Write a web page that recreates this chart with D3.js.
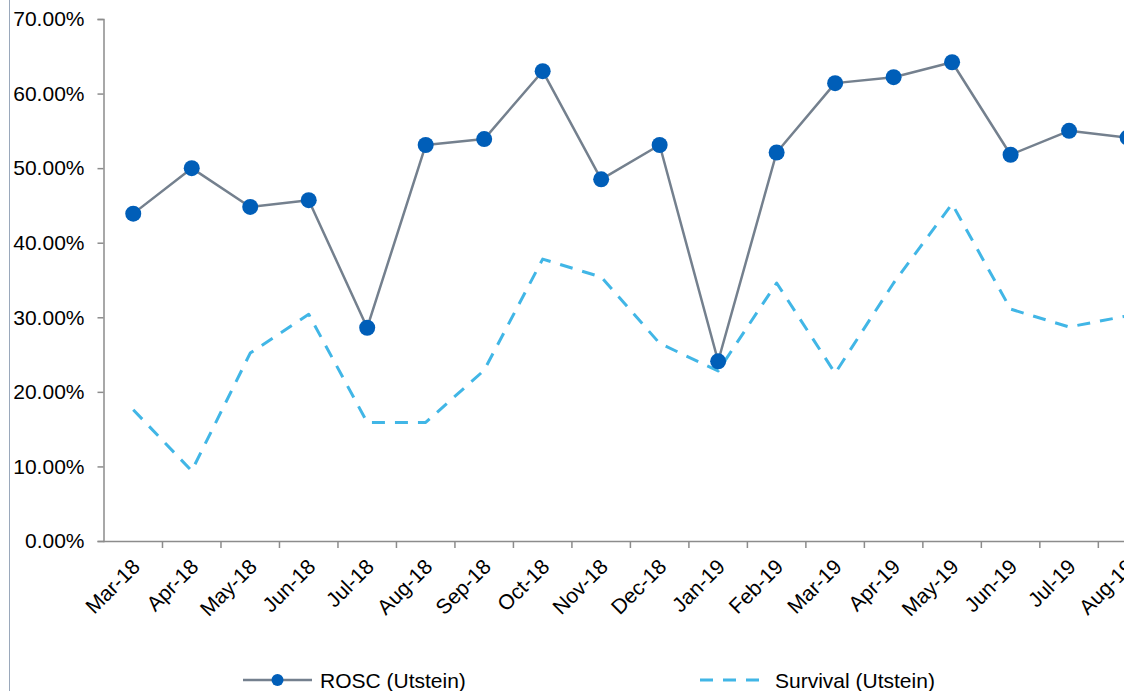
<!DOCTYPE html>
<html>
<head>
<meta charset="utf-8">
<script src="https://cdn.jsdelivr.net/npm/d3@7"></script>
<style>
  html, body { margin: 0; padding: 0; background: #fff; }
  svg { display: block; font-family: "Liberation Sans", Arial, sans-serif; }
</style>
</head>
<body>
<div id="chart"></div>
<script>
// data
var months = ["Mar-18", "Apr-18", "May-18", "Jun-18", "Jul-18", "Aug-18", "Sep-18", "Oct-18", "Nov-18",
              "Dec-18", "Jan-19", "Feb-19", "Mar-19", "Apr-19", "May-19", "Jun-19", "Jul-19", "Aug-19"];
var rosc = [43.9, 50.0, 44.8, 45.7, 28.6, 53.1, 53.9, 63.0, 48.5,
            53.1, 24.1, 52.1, 61.4, 62.2, 64.2, 51.8, 55.0, 54.1];
var survival = [17.6, 9.4, 25.2, 30.4, 15.9, 15.9, 22.9, 37.8, 35.4,
                26.5, 22.8, 34.6, 22.5, 34.6, 45.2, 31.1, 28.7, 30.2];
var yTicks = [0, 10, 20, 30, 40, 50, 60, 70];

var width = 1124, height = 691;
var axisColor = "#8c8c8c";

var svg = d3.select("#chart").append("svg")
    .attr("width", width)
    .attr("height", height);

// thin frame line on the left edge
svg.append("line")
    .attr("x1", 9.5).attr("x2", 9.5)
    .attr("y1", 0).attr("y2", height)
    .attr("stroke", "#9aa8bb")
    .attr("stroke-width", 1);

var x = d3.scaleBand()
    .domain(months)
    .range([104, 104 + 18 * 58.49]);

var y = d3.scaleLinear()
    .domain([0, 70])
    .range([541, 19]);

var plot = svg.append("g");

// y axis
var yAxis = plot.append("g")
    .attr("transform", "translate(103.5,0)")
    .call(d3.axisLeft(y).tickValues(yTicks).tickSize(6).tickPadding(13)
        .tickFormat(function (d) { return d3.format(".2f")(d) + "%"; }));
yAxis.select(".domain").attr("stroke", axisColor).attr("stroke-width", 1.5);
yAxis.selectAll(".tick line").attr("stroke", axisColor).attr("stroke-width", 1.5);
yAxis.selectAll(".tick text")
    .attr("fill", "#000")
    .style("font-size", "21px")
    .attr("font-family", null);

// x axis line
plot.append("line")
    .attr("x1", 103).attr("x2", width)
    .attr("y1", 541.5).attr("y2", 541.5)
    .attr("stroke", axisColor)
    .attr("stroke-width", 1.5);

// x ticks at band boundaries
plot.append("g")
    .selectAll("line")
    .data(months)
    .join("line")
    .attr("x1", function (d) { return x(d) + x.bandwidth(); })
    .attr("x2", function (d) { return x(d) + x.bandwidth(); })
    .attr("y1", 541)
    .attr("y2", 548)
    .attr("stroke", axisColor)
    .attr("stroke-width", 1.5);

// rotated month labels
plot.append("g")
    .selectAll("text")
    .data(months)
    .join("text")
    .attr("transform", function (d) {
        return "translate(" + (x(d) + x.bandwidth() / 2 + 8) + ",568) rotate(-45)";
    })
    .attr("text-anchor", "end")
    .style("font-size", "21px")
    .attr("fill", "#000")
    .text(function (d) { return d; });

// survival dashed line
var line = d3.line()
    .x(function (d, i) { return x(months[i]) + x.bandwidth() / 2; })
    .y(function (d) { return y(d); });

plot.append("path")
    .datum(survival)
    .attr("d", line)
    .attr("fill", "none")
    .attr("stroke", "#41b6e6")
    .attr("stroke-width", 3)
    .attr("stroke-dasharray", "13,10")
    .attr("stroke-linejoin", "round");

// ROSC line with markers
plot.append("path")
    .datum(rosc)
    .attr("d", line)
    .attr("fill", "none")
    .attr("stroke", "#74808e")
    .attr("stroke-width", 2.5)
    .attr("stroke-linejoin", "round");

plot.append("g")
    .selectAll("circle")
    .data(rosc)
    .join("circle")
    .attr("cx", function (d, i) { return x(months[i]) + x.bandwidth() / 2; })
    .attr("cy", function (d) { return y(d); })
    .attr("r", 8)
    .attr("fill", "#005eb8");

// legend
var legend = svg.append("g").attr("transform", "translate(0,680)");

legend.append("line")
    .attr("x1", 243).attr("x2", 312)
    .attr("y1", 0).attr("y2", 0)
    .attr("stroke", "#74808e")
    .attr("stroke-width", 2.5);
legend.append("circle")
    .attr("cx", 277.5).attr("cy", 0).attr("r", 6)
    .attr("fill", "#005eb8");
legend.append("text")
    .attr("x", 320).attr("y", 7.5)
    .style("font-size", "21px")
    .text("ROSC (Utstein)");

legend.append("line")
    .attr("x1", 700).attr("x2", 766)
    .attr("y1", 0).attr("y2", 0)
    .attr("stroke", "#41b6e6")
    .attr("stroke-width", 3)
    .attr("stroke-dasharray", "13,10");
legend.append("text")
    .attr("x", 775).attr("y", 7.5)
    .style("font-size", "21px")
    .text("Survival (Utstein)");
</script>
</body>
</html>
